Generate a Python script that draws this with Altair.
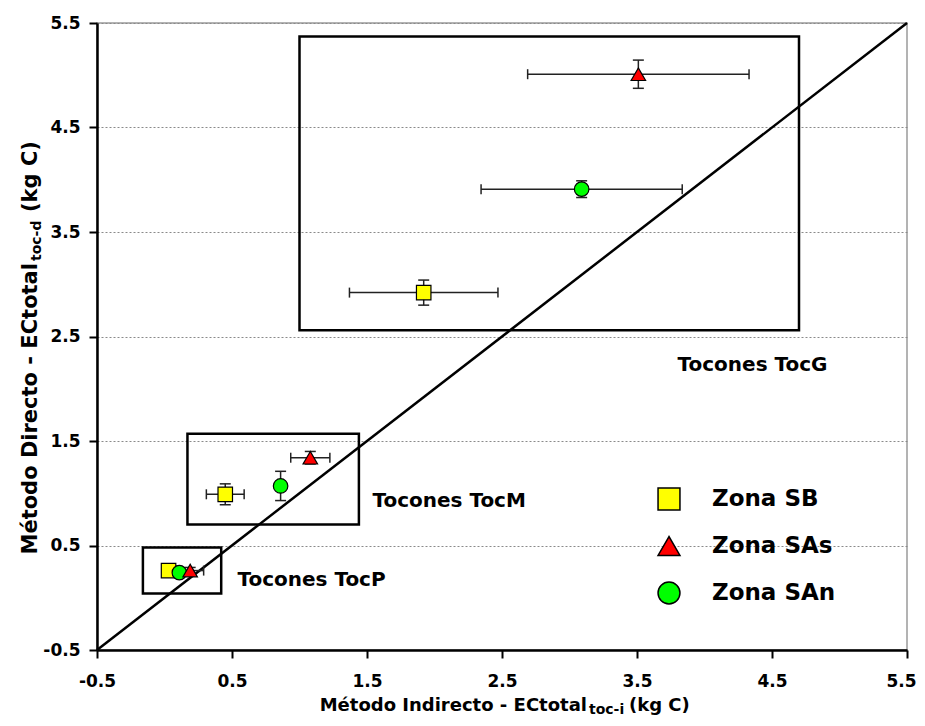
import altair as alt
import pandas as pd

FONT = "DejaVu Sans"

# ---------------- data ----------------
zones = ["Zona SB", "Zona SAs", "Zona SAn"]
zone_colors = ["#FFFF00", "#FF0000", "#00FF00"]
zone_shapes = ["square", "triangle-up", "circle"]

# each list: TocP, TocM, TocG
sb_x = [0.03, 0.45, 1.92]
sb_y = [0.26, 0.99, 2.92]
sb_xerr = [0.02, 0.14, 0.55]
sb_yerr = [0.02, 0.10, 0.12]

sas_x = [0.19, 1.08, 3.51]
sas_y = [0.26, 1.34, 5.01]
sas_xerr = [0.10, 0.145, 0.82]
sas_yerr = [0.03, 0.06, 0.135]

san_x = [0.11, 0.86, 3.09]
san_y = [0.24, 1.07, 3.91]
san_xerr = [0.03, 0.03, 0.745]
san_yerr = [0.03, 0.14, 0.08]

box_names = ["Tocones TocP", "Tocones TocM", "Tocones TocG"]
box_x1 = [-0.16, 0.17, 1.00]
box_x2 = [0.42, 1.44, 4.70]
box_y1 = [0.04, 0.70, 2.56]
box_y2 = [0.48, 1.57, 5.37]
label_x = [0.54, 1.54, 3.80]
label_y = [0.17, 0.93, 2.23]

line_x = [-0.5, 5.5]
line_y = [-0.5, 5.5]

axis_ticks = [-0.5, 0.5, 1.5, 2.5, 3.5, 4.5, 5.5]


def zone_frame(name, xs, ys, xe, ye):
    d = pd.DataFrame({"zona": name, "x": xs, "y": ys, "xerr": xe, "yerr": ye})
    d["xlo"] = d["x"] - d["xerr"]
    d["xhi"] = d["x"] + d["xerr"]
    d["ylo"] = d["y"] - d["yerr"]
    d["yhi"] = d["y"] + d["yerr"]
    return d


# drawing order: SB, SAn, SAs (triangle on top)
pts = pd.concat(
    [
        zone_frame("Zona SB", sb_x, sb_y, sb_xerr, sb_yerr),
        zone_frame("Zona SAn", san_x, san_y, san_xerr, san_yerr),
        zone_frame("Zona SAs", sas_x, sas_y, sas_xerr, sas_yerr),
    ],
    ignore_index=True,
)

hcaps = pd.concat(
    [
        pts[["xlo", "y"]].rename(columns={"xlo": "cx", "y": "cy"}),
        pts[["xhi", "y"]].rename(columns={"xhi": "cx", "y": "cy"}),
    ],
    ignore_index=True,
)
vcaps = pd.concat(
    [
        pts[["x", "ylo"]].rename(columns={"x": "cx", "ylo": "cy"}),
        pts[["x", "yhi"]].rename(columns={"x": "cx", "yhi": "cy"}),
    ],
    ignore_index=True,
)

boxes = pd.DataFrame(
    {"name": box_names, "x1": box_x1, "x2": box_x2, "y1": box_y1, "y2": box_y2,
     "lx": label_x, "ly": label_y}
)
diag = pd.DataFrame({"x": line_x, "y": line_y})

# ---------------- scales / axes ----------------
xsc = alt.Scale(domain=[-0.5, 5.5], nice=False, zero=False)
ysc = alt.Scale(domain=[-0.5, 5.5], nice=False, zero=False)

label_expr = "datum.value < 0 ? '-' + format(-datum.value, '.1f') : format(datum.value, '.1f')"

common_axis = dict(
    values=axis_ticks,
    labelExpr=label_expr,
    title=None,
    labelFont=FONT,
    labelFontWeight="bold",
    labelFontSize=17,
    labelColor="black",
    labelFlush=False,
    labelOverlap=False,
    tickSize=8,
    tickWidth=2,
    tickColor="black",
    domainColor="black",
    domainWidth=2.5,
)
x_axis = alt.Axis(
    grid=False,
    labelPadding=15,
    labelAlign={"condition": {"test": "datum.value > 5", "value": "right"}, "value": "center"},
    labelOffset={"condition": {"test": "datum.value > 5", "value": 9}, "value": 0},
    **common_axis,
)
y_axis = alt.Axis(grid=True, gridDash=[2, 2], gridColor="#8a8a8a", gridWidth=1,
                  labelPadding=9, **common_axis)

# ---------------- layers ----------------
rects = alt.Chart(boxes).mark_rect(fillOpacity=0, stroke="black", strokeWidth=2.5).encode(
    x=alt.X("x1:Q", scale=xsc, axis=x_axis, title=None),
    x2="x2:Q",
    y=alt.Y("y1:Q", scale=ysc, axis=y_axis, title=None),
    y2="y2:Q",
)

diag_line = alt.Chart(diag).mark_line(color="black", strokeWidth=2.5).encode(
    x=alt.X("x:Q", scale=xsc, title=None),
    y=alt.Y("y:Q", scale=ysc, title=None),
)

hbars = alt.Chart(pts).mark_rule(color="#222222", strokeWidth=1.5).encode(
    x=alt.X("xlo:Q", scale=xsc, title=None),
    x2="xhi:Q",
    y=alt.Y("y:Q", scale=ysc, title=None),
)
vbars = alt.Chart(pts).mark_rule(color="#222222", strokeWidth=1.5).encode(
    x=alt.X("x:Q", scale=xsc, title=None),
    y=alt.Y("ylo:Q", scale=ysc, title=None),
    y2="yhi:Q",
)
hcap_marks = alt.Chart(hcaps).mark_tick(
    orient="vertical", size=10, thickness=1.5, color="#222222", opacity=1
).encode(
    x=alt.X("cx:Q", scale=xsc, title=None),
    y=alt.Y("cy:Q", scale=ysc, title=None),
)
vcap_marks = alt.Chart(vcaps).mark_tick(
    orient="horizontal", size=11, thickness=1.5, color="#222222", opacity=1
).encode(
    x=alt.X("cx:Q", scale=xsc, title=None),
    y=alt.Y("cy:Q", scale=ysc, title=None),
)

legend = alt.Legend(
    title=None,
    orient="none",
    legendX=560,
    legendY=464,
    padding=0,
    labelFont=FONT,
    labelFontWeight="bold",
    labelFontSize=23,
    labelColor="black",
    labelOffset=31,
    symbolSize=480,
    symbolStrokeColor="black",
    symbolStrokeWidth=1.5,
    symbolOpacity=1,
    symbolFillColor="black",
    rowPadding=20,
)

points = alt.Chart(pts).mark_point(
    filled=True, size=210, stroke="black", strokeWidth=1.2, opacity=1
).encode(
    x=alt.X("x:Q", scale=xsc, title=None),
    y=alt.Y("y:Q", scale=ysc, title=None),
    color=alt.Color("zona:N", scale=alt.Scale(domain=zones, range=zone_colors), legend=legend),
    shape=alt.Shape("zona:N", scale=alt.Scale(domain=zones, range=zone_shapes), legend=legend),
)

box_labels = alt.Chart(boxes).mark_text(
    align="left", baseline="middle", font=FONT, fontWeight="bold", fontSize=20, color="black"
).encode(
    x=alt.X("lx:Q", scale=xsc, title=None),
    y=alt.Y("ly:Q", scale=ysc, title=None),
    text="name:N",
)

# ---------------- axis titles with subscripts ----------------
def title_piece(txt, x, y, size, align, angle=0):
    kw = dict(align=align, baseline="alphabetic", font=FONT, fontWeight="bold",
              fontSize=size, color="black")
    if angle:
        kw["angle"] = angle
    return alt.Chart(pd.DataFrame({"t": [txt]})).mark_text(**kw).encode(
        x=alt.value(x), y=alt.value(y), text="t:N"
    )

x_title_main = title_piece("Método Indirecto - ECtotal", 490, 688, 18, "right")
x_title_sub = title_piece("toc-i", 492, 691, 14, "left")
x_title_unit = title_piece("(kg C)", 532, 688, 18, "left")

y_title_main = title_piece("Método Directo - ECtotal", -60, 240, 21, "right", 270)
y_title_sub = title_piece("toc-d", -56, 238, 14, "left", 270)
y_title_unit = title_piece("(kg C)", -60, 189, 21, "left", 270)

chart = alt.layer(
    rects, diag_line, hbars, vbars, hcap_marks, vcap_marks, points, box_labels,
    x_title_main, x_title_sub, x_title_unit, y_title_main, y_title_sub, y_title_unit,
).properties(
    width=810,
    height=627,
    autosize=alt.AutoSizeParams(type="none"),
    padding={"left": 89, "top": 15, "right": 10, "bottom": 67},
    background="white",
).configure_view(
    stroke="#9a9a9a", strokeWidth=1.5
)

chart.save("out.html", embed_options={"renderer": "svg", "actions": False})
